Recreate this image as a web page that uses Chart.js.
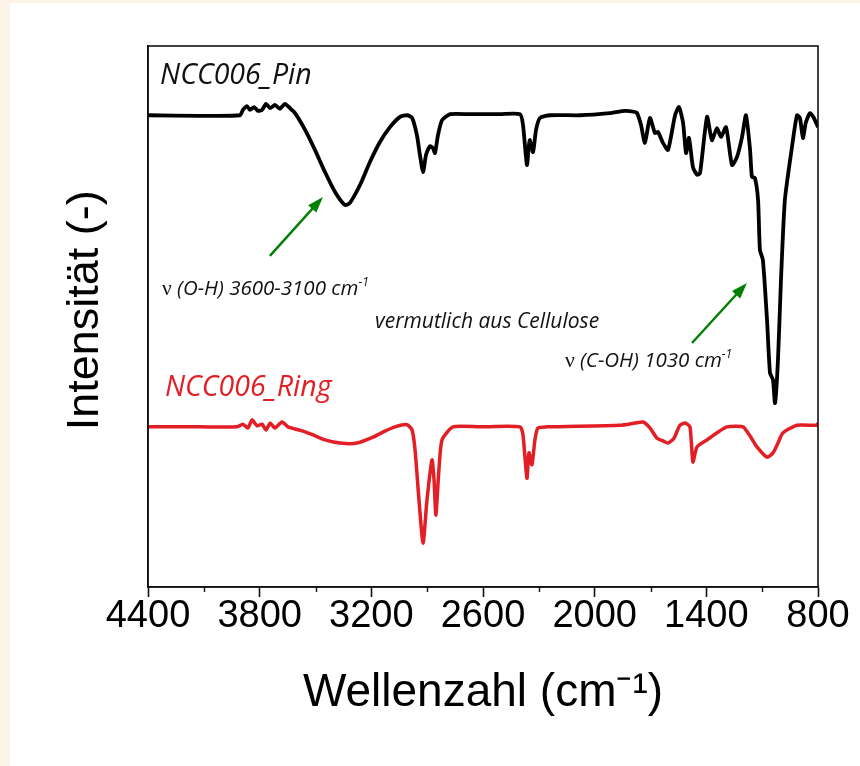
<!DOCTYPE html>
<html><head><meta charset="utf-8">
<script src="https://cdn.jsdelivr.net/npm/chart.js@4.4.1/dist/chart.umd.min.js"></script>
<style>html,body{margin:0;padding:0;background:#fff;}canvas{display:block;}</style>
</head><body>
<canvas id="c" width="860" height="766"></canvas>
<script>
// ---- data ----
const seriesNames = ['NCC006_Pin', 'NCC006_Ring'];
const wavenumbersPin = [4400,4121,3906,3890,3868,3852,3830,3809,3787,3766,3744,3718,3691,3664,3637,3610,3556,3503,3449,3395,3342,3315,3261,3207,3153,3100,3046,3008,2981,2955,2939,2922,2906,2885,2869,2858,2842,2820,2777,2670,2509,2401,2385,2364,2353,2348,2331,2315,2294,2240,2079,1918,1837,1783,1772,1751,1730,1703,1676,1660,1633,1606,1568,1547,1525,1509,1493,1472,1450,1434,1396,1370,1343,1321,1294,1262,1235,1208,1187,1165,1155,1139,1122,1112,1096,1074,1058,1042,1031,1015,999,978,940,913,897,881,865,843,822,800];
const intensityPin = [87.2,87.1,87.2,88.2,88.9,88.2,88.7,88.0,88.2,89.3,88.5,89.1,88.4,89.3,88.5,87.6,84.5,80.8,76.7,73.0,70.6,71.0,74.3,78.6,82.3,85.0,86.9,87.2,86.7,83.5,79.9,76.7,79.9,81.5,81.1,80.2,83.5,86.3,87.4,87.4,87.4,87.4,85.4,78.0,81.7,82.6,80.4,84.5,86.7,87.2,87.2,87.6,88.0,87.8,87.6,85.4,82.1,86.7,83.9,84.1,82.1,80.8,87.2,88.7,85.8,80.2,83.0,77.6,76.2,76.5,86.9,82.6,84.8,83.2,85.0,78.0,79.5,83.2,87.2,80.8,75.8,75.6,71.5,62.3,60.4,49.4,39.6,38.3,34.0,42.0,56.7,71.5,81.3,87.2,86.7,83.0,85.9,87.6,86.7,85.0];
const wavenumbersRing = [4400,4121,3922,3890,3863,3841,3814,3787,3766,3744,3718,3680,3648,3610,3567,3513,3449,3368,3277,3191,3127,3073,3008,2981,2965,2944,2922,2901,2874,2863,2853,2837,2820,2761,2616,2401,2385,2364,2353,2337,2321,2305,2256,1864,1783,1740,1703,1665,1633,1606,1574,1542,1514,1488,1472,1450,1396,1343,1289,1203,1165,1128,1074,1042,1015,988,913,806,800];
const intensityRing = [29.6,29.6,29.6,30.1,29.4,30.9,29.8,30.1,29.0,30.3,29.4,30.5,29.6,29.2,28.8,28.1,27.2,26.6,26.6,27.7,28.8,29.6,30.0,29.0,25.3,16.1,8.1,16.1,23.5,19.8,13.3,21.6,27.2,29.6,29.6,29.6,28.1,20.1,24.8,22.6,27.2,29.4,29.6,29.9,30.3,30.5,29.4,27.5,27.0,26.6,27.5,29.9,30.3,29.6,23.1,25.9,27.2,28.5,29.6,29.6,27.9,25.9,24.0,24.8,26.6,28.5,29.9,29.9,30.3];
const xTickValues = [4400, 3800, 3200, 2600, 2000, 1400, 800];
const xMinorTickValues = [4100, 3500, 2900, 2300, 1700, 1100];
const xTitle = 'Wellenzahl (cm⁻¹)';
const yTitle = ' Intensität (-)';

const toPoints = (xs, ys) => xs.map((v, i) => ({x: v, y: ys[i]}));

const ANNOT_FONT = '"Open Sans", "Noto Sans", sans-serif';

const decorPlugin = {
  id: 'decor',
  beforeDraw(chart) {
    const {ctx, width, height} = chart;
    ctx.save();
    ctx.fillStyle = '#fdf3e8';
    ctx.fillRect(0, 0, width, height);
    ctx.fillStyle = '#ffffff';
    ctx.fillRect(10, 3, width - 10, height - 3);
    ctx.restore();
  },
  afterDraw(chart, args, opts) {
    const {ctx, chartArea: a, scales: {x, y}} = chart;
    ctx.save();
    // frame
    ctx.strokeStyle = '#111';
    ctx.lineWidth = 1.6;
    ctx.strokeRect(a.left, a.top, a.right - a.left, a.bottom - a.top);
    // minor ticks
    ctx.lineWidth = 1.4;
    ctx.beginPath();
    for (const v of xMinorTickValues) {
      const px = Math.round(x.getPixelForValue(v)) + 0.5;
      ctx.moveTo(px, a.bottom);
      ctx.lineTo(px, a.bottom + 5);
    }
    ctx.stroke();
    // arrows
    for (const ar of opts.arrows) {
      const x0 = x.getPixelForValue(ar.from[0]), y0 = y.getPixelForValue(ar.from[1]);
      const x1 = x.getPixelForValue(ar.to[0]), y1 = y.getPixelForValue(ar.to[1]);
      const ang = Math.atan2(y1 - y0, x1 - x0);
      const hl = 16, hw = 5.5;
      ctx.strokeStyle = ar.color; ctx.fillStyle = ar.color; ctx.lineWidth = 2.4;
      ctx.beginPath();
      ctx.moveTo(x0, y0);
      ctx.lineTo(x1 - Math.cos(ang) * (hl - 2), y1 - Math.sin(ang) * (hl - 2));
      ctx.stroke();
      ctx.beginPath();
      ctx.moveTo(x1, y1);
      ctx.lineTo(x1 - Math.cos(ang) * hl + Math.sin(ang) * hw, y1 - Math.sin(ang) * hl - Math.cos(ang) * hw);
      ctx.lineTo(x1 - Math.cos(ang) * hl - Math.sin(ang) * hw, y1 - Math.sin(ang) * hl + Math.cos(ang) * hw);
      ctx.closePath();
      ctx.fill();
    }
    // texts
    ctx.textBaseline = 'alphabetic';
    ctx.textAlign = 'left';
    for (const t of opts.texts) {
      let px = x.getPixelForValue(t.at[0]);
      const py = y.getPixelForValue(t.at[1]);
      ctx.fillStyle = t.color;
      for (const p of t.parts) {
        const size = p.sup ? Math.round(t.size * 0.6) : (p.upright ? t.size * 1.05 : t.size);
        const style = p.upright ? 'normal' : 'italic';
        const fam = p.upright ? '"Liberation Serif", "DejaVu Serif", serif' : ANNOT_FONT;
        ctx.font = `${style} ${size}px ${fam}`;
        ctx.fillText(p.text, px, p.sup ? py - t.size * 0.45 : py);
        px += ctx.measureText(p.text).width;
      }
    }
    ctx.restore();
  }
};

new Chart(document.getElementById('c'), {
  type: 'line',
  data: {
    datasets: [
      { label: seriesNames[0], data: toPoints(wavenumbersPin, intensityPin), borderColor: '#000000', borderWidth: 3.8, pointRadius: 0, tension: 0.2, fill: false },
      { label: seriesNames[1], data: toPoints(wavenumbersRing, intensityRing), borderColor: '#e31e24', borderWidth: 3.5, pointRadius: 0, tension: 0.2, fill: false }
    ]
  },
  options: {
    responsive: false,
    animation: false,
    devicePixelRatio: 1,
    layout: { padding: { top: 46, right: 42, left: 0, bottom: 0 } },
    plugins: {
      legend: { display: false },
      tooltip: { enabled: false },
      decor: {
        arrows: [
          { from: [3745, 61.2], to: [3460, 72.1], color: '#008000' },
          { from: [1477, 45.1], to: [1182, 56.2], color: '#008000' }
        ],
        texts: [
          { at: [4335, 93.0], size: 28.5, color: '#111', parts: [{text: seriesNames[0]}] },
          { at: [4309, 35.3], size: 28.5, color: '#e31e24', parts: [{text: seriesNames[1]}] },
          { at: [4325, 54.0], size: 20.5, color: '#111', parts: [{text: 'ν ', upright: true}, {text: '(O-H) 3600-3100 cm'}, {text: '-1', sup: true}] },
          { at: [3180, 47.9], size: 21, color: '#111', parts: [{text: 'vermutlich aus Cellulose'}] },
          { at: [2160, 40.7], size: 20.5, color: '#111', parts: [{text: 'ν ', upright: true}, {text: '(C-OH) 1030 cm'}, {text: '-1', sup: true}] }
        ]
      }
    },
    scales: {
      x: {
        type: 'linear',
        reverse: true,
        min: 800, max: 4400,
        afterBuildTicks: (s) => { s.ticks = xTickValues.map(v => ({value: v})); },
        afterFit: (s) => { s.height = 179; },
        grid: { display: true, drawOnChartArea: false, drawTicks: true, tickLength: 10, tickColor: '#111', tickWidth: 1.6 },
        border: { display: true, color: '#111', width: 1.6 },
        ticks: { color: '#000', font: { family: '"Liberation Sans", Arial, sans-serif', size: 38 }, padding: -3, maxRotation: 0, autoSkip: false, callback: (v) => String(v) },
        title: { display: true, text: xTitle, color: '#000', font: { family: '"Liberation Sans", Arial, sans-serif', size: 46 }, padding: { top: 0, bottom: 45 } }
      },
      y: {
        type: 'linear',
        min: 0, max: 100,
        afterFit: (s) => { s.width = 148; },
        grid: { display: false, drawTicks: false },
        border: { display: true, color: '#111', width: 1.6 },
        ticks: { display: false },
        title: { display: true, text: yTitle, color: '#000', font: { family: '"Liberation Sans", Arial, sans-serif', size: 45 }, padding: { top: 59, bottom: 0 } }
      }
    }
  },
  plugins: [decorPlugin]
});
</script>
</body></html>
